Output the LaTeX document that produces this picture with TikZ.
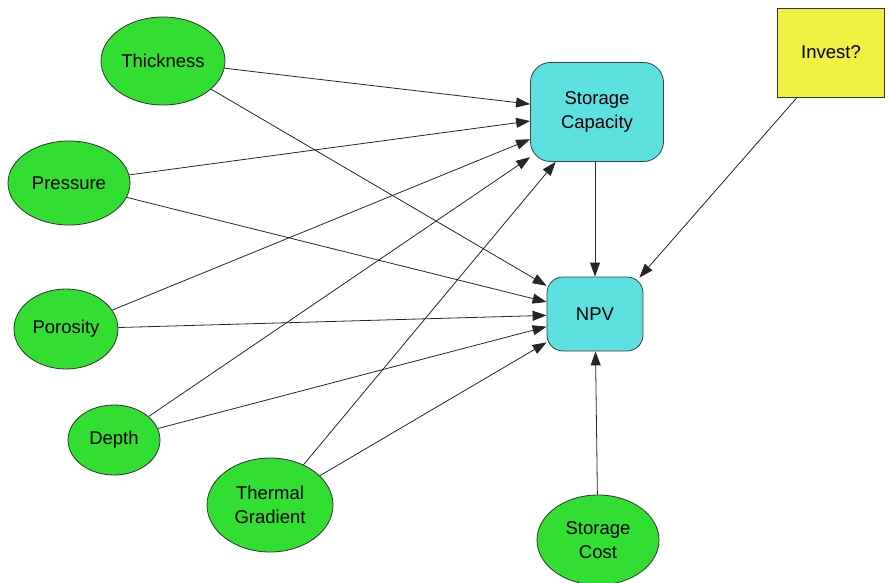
\documentclass[tikz,border=0pt]{standalone}
\usepackage{fontspec}
\setmainfont{Liberation Sans}
\usetikzlibrary{arrows.meta,calc,shapes.geometric}
\definecolor{nodegreen}{RGB}{50,222,50}
\definecolor{boxcyan}{RGB}{92,224,224}
\definecolor{boxyellow}{RGB}{240,240,66}
\tikzset{
  chance/.style={ellipse,draw=black!80,line width=0.8pt,fill=nodegreen,inner sep=0pt,align=center,font=\fontsize{18.5}{23.5}\selectfont},
  valuebox/.style={rectangle,rounded corners=20pt,draw=black!75,line width=0.8pt,fill=boxcyan,inner sep=0pt,align=center,font=\fontsize{18.5}{24}\selectfont},
  decisionbox/.style={rectangle,draw=black!80,line width=0.8pt,fill=boxyellow,inner sep=0pt,align=center,font=\fontsize{18.5}{23}\selectfont},
  arr/.style={draw=black!85,line width=0.8pt,-{Triangle[length=14pt,width=10pt]}}
}
\begin{document}
\begin{tikzpicture}[x=1pt,y=-1pt]
\useasboundingbox (0,0) rectangle (888,583);
\node[chance,minimum width=124pt,minimum height=88pt] (thick) at (163,61) {Thickness};
\node[chance,minimum width=122pt,minimum height=84pt] (press) at (69,183) {Pressure};
\node[chance,minimum width=104pt,minimum height=80pt] (poro) at (66,329) {Porosity};
\node[chance,minimum width=92pt,minimum height=70pt] (depth) at (114,440) {Depth};
\node[chance,minimum width=126pt,minimum height=94pt] (therm) at (270,505) {Thermal\\Gradient};
\node[chance,minimum width=122pt,minimum height=90pt] (cost) at (598,540) {Storage\\Cost};
\node[valuebox,minimum width=133pt,minimum height=99pt] (cap) at (597,112) {Storage\\Capacity};
\node[valuebox,minimum width=96pt,minimum height=74pt,rounded corners=16pt] (npv) at (595,314) {NPV};
\node[decisionbox,minimum width=107pt,minimum height=89pt] (inv) at (831,52.5) {Invest?};
\foreach \s in {thick,press,poro,depth,therm}{
  \draw[arr] (\s) -- (cap);
  \draw[arr] (\s) -- (npv);
}
\draw[arr] (cap.south -| npv.north) -- (npv);
\draw[arr] (cost) -- (npv);
\coordinate (invtip) at ($(npv.north east)+(-4,1)$);
\draw[arr] ($(inv.south west)+(20,0)$) -- (invtip);
\end{tikzpicture}
\end{document}
